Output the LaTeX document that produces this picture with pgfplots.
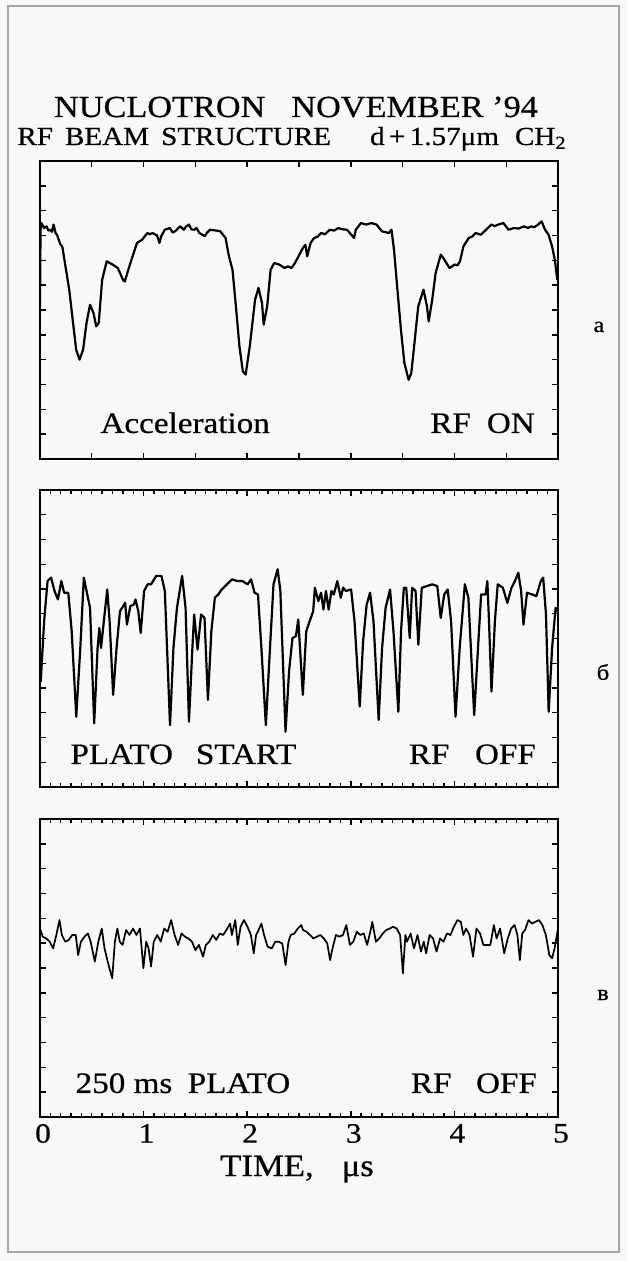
\documentclass[border=0pt]{standalone}
\usepackage{fontspec}
\setmainfont{Liberation Serif}[FakeStretch=1.12, FakeBold=0.6]
\usepackage{pgfplots}
\usepackage{pgfplotstable}
\pgfplotsset{compat=1.18}

\pgfplotstableread{
x y
0.000 6.0
0.005 9.2
0.013 9.50
0.040 9.30
0.064 9.37
0.080 9.20
0.097 9.23
0.115 9.15
0.131 9.44
0.150 9.10
0.164 9.03
0.198 8.63
0.215 8.56
0.282 6.82
0.349 4.40
0.382 4.00
0.416 4.40
0.449 5.48
0.483 6.21
0.516 5.88
0.543 5.34
0.567 5.48
0.600 7.22
0.644 7.96
0.701 7.83
0.751 7.69
0.801 7.22
0.818 7.15
0.868 7.83
0.936 8.70
0.986 8.83
1.036 9.10
1.060 9.05
1.086 9.10
1.130 9.00
1.153 8.70
1.170 8.97
1.204 9.23
1.254 9.30
1.280 9.12
1.304 9.17
1.330 9.28
1.355 9.37
1.388 9.23
1.410 9.36
1.438 9.44
1.460 9.25
1.489 9.23
1.510 9.30
1.539 9.10
1.560 9.05
1.589 8.97
1.610 9.10
1.640 9.23
1.700 9.20
1.740 9.17
1.791 8.90
1.824 8.16
1.858 7.62
1.891 6.15
1.925 4.54
1.958 3.53
1.985 3.40
2.025 4.54
2.076 6.42
2.109 6.89
2.143 6.28
2.159 5.41
2.193 6.15
2.226 7.62
2.260 7.89
2.310 7.83
2.361 7.69
2.394 7.76
2.428 7.69
2.461 7.89
2.495 8.16
2.528 8.43
2.562 8.63
2.579 8.16
2.612 8.70
2.646 8.90
2.680 8.95
2.713 9.10
2.750 9.05
2.797 9.23
2.840 9.20
2.880 9.30
2.920 9.25
2.964 9.23
3.031 8.90
3.048 9.23
3.098 9.50
3.149 9.44
3.199 9.50
3.249 9.44
3.299 9.17
3.367 9.10
3.393 9.23
3.417 8.43
3.450 6.82
3.484 5.21
3.517 3.87
3.558 3.19
3.584 3.46
3.618 4.81
3.651 6.15
3.702 6.82
3.735 6.15
3.752 5.54
3.786 6.42
3.819 7.49
3.869 8.23
3.903 8.03
3.953 7.69
4.003 7.83
4.030 7.80
4.054 7.96
4.087 8.56
4.138 8.90
4.170 8.95
4.205 9.10
4.255 9.03
4.305 9.23
4.356 9.44
4.390 9.38
4.423 9.44
4.473 9.50
4.523 9.23
4.574 9.30
4.620 9.28
4.674 9.37
4.710 9.30
4.741 9.37
4.770 9.33
4.808 9.44
4.842 9.57
4.875 9.23
4.909 9.03
4.943 8.56
4.969 8.03
4.993 7.22
}\dataA

\pgfplotstableread{
x y
0.000 4.26
0.007 4.26
0.040 6.70
0.073 8.32
0.107 8.46
0.140 7.92
0.173 7.58
0.206 8.32
0.233 7.85
0.273 7.85
0.306 6.29
0.350 2.84
0.389 5.62
0.423 8.46
0.456 7.78
0.483 7.24
0.523 2.57
0.556 5.62
0.573 6.43
0.589 5.62
0.606 6.29
0.649 7.98
0.672 6.70
0.706 3.72
0.739 5.62
0.772 7.10
0.822 7.44
0.839 6.56
0.872 7.31
0.905 7.37
0.922 7.58
0.949 7.10
0.972 6.22
1.005 7.92
1.039 8.19
1.072 8.19
1.122 8.53
1.172 8.53
1.205 7.92
1.255 2.50
1.288 5.62
1.322 7.24
1.372 8.53
1.405 7.24
1.438 2.64
1.471 5.62
1.488 6.97
1.521 5.55
1.555 6.97
1.588 6.83
1.621 3.52
1.654 6.29
1.688 7.65
1.721 7.78
1.754 7.98
1.804 8.19
1.854 8.39
1.904 8.32
1.954 8.32
2.004 8.19
2.037 8.39
2.071 7.85
2.104 7.78
2.137 5.62
2.180 2.50
2.220 5.62
2.254 8.19
2.294 8.80
2.320 7.92
2.370 2.23
2.404 4.67
2.437 6.02
2.470 6.09
2.493 6.77
2.537 3.72
2.570 6.29
2.603 6.70
2.637 7.10
2.653 8.05
2.687 7.51
2.713 7.85
2.736 7.17
2.760 7.92
2.786 7.17
2.813 7.92
2.836 7.78
2.870 8.32
2.903 7.65
2.926 8.05
2.953 7.92
3.003 7.98
3.036 6.70
3.086 3.25
3.119 5.89
3.153 7.37
3.186 7.85
3.219 6.70
3.269 2.71
3.302 5.62
3.336 7.24
3.379 7.98
3.412 6.29
3.459 3.04
3.485 6.29
3.512 8.05
3.535 8.05
3.569 6.02
3.592 8.05
3.625 7.92
3.652 5.75
3.685 8.05
3.735 8.12
3.785 8.19
3.835 8.12
3.868 6.83
3.902 7.78
3.935 7.98
3.968 6.70
4.011 2.84
4.051 5.62
4.101 8.19
4.135 7.65
4.191 2.91
4.228 5.62
4.258 7.78
4.301 7.78
4.318 8.32
4.334 6.70
4.358 3.86
4.391 6.70
4.418 8.19
4.468 8.05
4.511 7.44
4.551 8.05
4.584 8.32
4.617 8.66
4.644 7.92
4.667 6.56
4.701 7.85
4.751 7.78
4.791 7.71
4.834 8.32
4.857 8.46
4.884 6.97
4.910 3.04
4.943 5.62
4.977 7.24
5.000 7.10
}\dataB

\pgfplotstableread{
x y
0.000 7.59
0.027 7.26
0.060 7.19
0.094 7.06
0.127 6.79
0.161 7.39
0.188 7.93
0.211 7.33
0.244 7.06
0.278 7.13
0.311 7.33
0.345 7.33
0.368 6.52
0.395 7.06
0.429 7.26
0.462 7.39
0.489 7.06
0.529 6.26
0.563 7.06
0.596 7.59
0.623 6.79
0.646 6.39
0.670 5.99
0.697 5.59
0.723 7.06
0.747 7.59
0.770 7.06
0.797 6.93
0.831 7.53
0.864 7.33
0.898 7.59
0.931 7.33
0.965 7.59
0.998 5.99
1.025 7.06
1.048 6.79
1.072 6.06
1.098 7.06
1.132 7.33
1.165 7.06
1.199 7.59
1.232 7.46
1.266 7.93
1.299 7.33
1.333 6.93
1.366 7.39
1.400 7.26
1.433 7.19
1.467 7.06
1.500 6.72
1.534 6.93
1.574 6.46
1.601 6.93
1.634 7.06
1.668 7.33
1.701 7.13
1.735 7.39
1.768 7.33
1.808 7.59
1.835 7.79
1.852 7.33
1.885 7.93
1.909 6.93
1.936 7.66
1.969 7.93
2.003 7.66
2.036 7.33
2.063 6.59
2.086 7.33
2.110 7.53
2.137 7.79
2.163 7.33
2.197 6.86
2.237 6.79
2.271 7.06
2.304 7.06
2.338 6.99
2.371 6.12
2.398 7.06
2.421 7.33
2.455 7.39
2.488 7.59
2.522 7.73
2.539 7.53
2.572 7.46
2.606 7.33
2.639 7.19
2.673 7.26
2.706 7.33
2.740 7.19
2.773 6.99
2.800 6.32
2.823 6.79
2.857 7.33
2.890 7.26
2.924 7.33
2.957 7.73
2.991 6.93
3.024 7.06
3.058 7.46
3.091 7.33
3.125 7.39
3.158 6.93
3.192 7.53
3.208 7.86
3.242 7.06
3.275 7.19
3.309 7.39
3.342 7.53
3.376 7.59
3.409 7.66
3.443 7.59
3.476 7.33
3.503 5.79
3.527 7.33
3.543 7.06
3.577 7.39
3.610 6.79
3.644 7.33
3.677 6.66
3.704 7.06
3.727 6.59
3.761 7.33
3.794 7.19
3.828 6.66
3.861 7.19
3.895 7.06
3.928 7.39
3.962 7.33
3.995 7.66
4.029 7.93
4.062 7.86
4.086 7.33
4.113 7.59
4.146 7.33
4.180 6.46
4.213 7.59
4.247 7.39
4.280 6.93
4.347 6.93
4.381 7.73
4.407 7.19
4.441 7.59
4.481 6.59
4.515 7.19
4.548 7.59
4.581 7.73
4.608 7.33
4.632 6.32
4.655 7.39
4.682 7.53
4.715 7.93
4.749 7.79
4.782 7.86
4.816 7.93
4.849 7.73
4.883 7.33
4.916 6.52
4.943 6.39
4.967 6.79
5.000 7.59
}\dataC

\definecolor{paper}{RGB}{246,248,250}

\pgfplotsset{
  panel/.style={
    scale only axis, width=259pt, height=149pt,
    xmin=0, xmax=5, ymin=0, ymax=12,
    axis line style={line width=1.4pt},
    ytick={0,...,12}, yticklabels={},
    xticklabels={},
    xtick pos=both, ytick pos=both,
    tick align=inside,
    tick style={black, line width=0.7pt},
    major tick length=3pt, minor tick length=2pt,
  },
  trace/.style={black, line width=1.1pt, line join=round, no markers},
}
\tikzset{lab/.style={font=\fontsize{14.8}{14.8}\selectfont, inner sep=0pt}}

\begin{document}
\begin{tikzpicture}
\useasboundingbox[fill=paper] (0,0) rectangle (313.5pt,-630.5pt);
\draw[gray!70, line width=0.6pt] (4pt,-3pt) rectangle (309.5pt,-626pt);

\node[anchor=base, inner sep=0pt, font=\fontsize{15.3}{15.3}\selectfont] at (148pt,-58.5pt) {NUCLOTRON\hspace{13pt}NOVEMBER ’94};
\node[anchor=base west, inner sep=0pt, font=\fontsize{13}{13}\selectfont] at (8.5pt,-72.5pt) {RF\hspace{6pt}BEAM\hspace{6pt}STRUCTURE};
\node[anchor=base east, inner sep=0pt, font=\fontsize{13}{13}\selectfont] at (283.5pt,-72.5pt) {d\,+\,1.57μm\hspace{8pt}CH\textsubscript{2}};

% panel a
\begin{axis}[panel, at={(20pt,-80.5pt)}, anchor=north west,
  xtick={0,0.5,...,5}]
\addplot[trace] table[x=x,y=y] {\dataA};
\node[lab, anchor=base west] at (axis cs:0.58,1.05) {Acceleration};
\node[lab, anchor=base east] at (axis cs:4.78,1.05) {RF\hspace{8pt}ON};
\end{axis}

% panel b
\begin{axis}[panel, at={(20pt,-245pt)}, anchor=north west, height=148.5pt,
  xtick={0,...,5}, minor x tick num=9]
\addplot[trace] table[x=x,y=y] {\dataB};
\node[lab, anchor=base west] at (axis cs:0.29,0.93) {PLATO\hspace{11.5pt}START};
\node[lab, anchor=base east] at (axis cs:4.79,0.93) {RF\hspace{12.8pt}OFF};
\end{axis}

% panel c
\begin{axis}[panel, at={(20pt,-409.5pt)}, anchor=north west,
  xtick={0,...,5}, minor x tick num=9,
  xticklabels={0,1,2,3,4,5}, xticklabel pos=lower,
  /pgf/number format/assume math mode=true,
  xticklabel style={font=\fontsize{14}{14}\selectfont, xshift=1.5pt}]
\addplot[trace, line width=0.85pt] table[x=x,y=y] {\dataC};
\node[lab, anchor=base west] at (axis cs:0.34,0.97) {250 ms\hspace{7.7pt}PLATO};
\node[lab, anchor=base east] at (axis cs:4.80,0.97) {RF\hspace{12.3pt}OFF};
\end{axis}

\node[anchor=base, inner sep=0pt, font=\fontsize{15.5}{15.5}\selectfont] at (148.5pt,-588pt) {TIME,\hspace{14pt}μs};

\node[font=\fontsize{11}{11}\selectfont] at (299.5pt,-163.5pt) {a};
\node[font=\fontsize{11}{11}\selectfont] at (301.5pt,-336pt) {б};
\node[font=\fontsize{11}{11}\selectfont] at (301.5pt,-497.5pt) {в};
\end{tikzpicture}
\end{document}
